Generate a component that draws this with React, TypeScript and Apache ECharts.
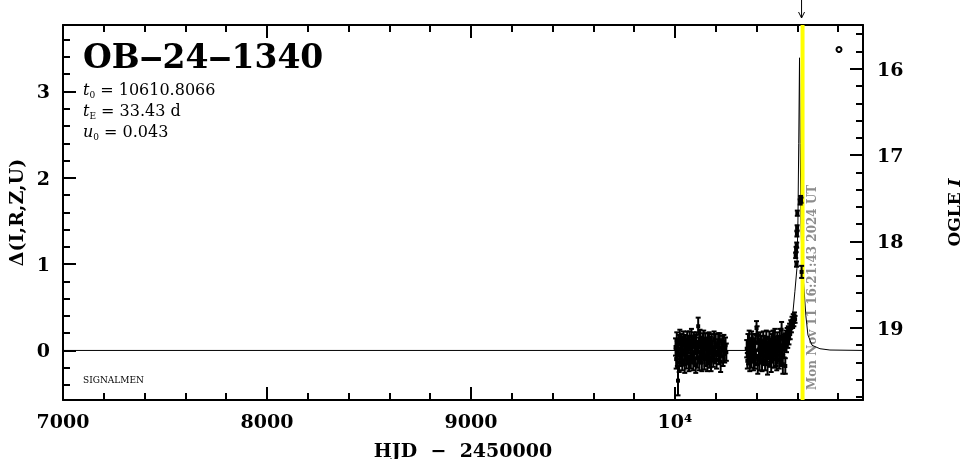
import React, { useEffect, useRef } from 'react';
import * as echarts from 'echarts';

// ---- axis ranges ----
const X_MIN = 7000;
const X_MAX = 10922;
const D_MIN = -0.574;
const D_MAX = 3.77;
const MAG_ZERO = 19.263; // OGLE I magnitude at Δ = 0
const NOW_T = 10625.68; // Mon Nov 11 16:21:43 2024 UT

// ---- tick labels ----
const xMajorTicks = [7000, 8000, 9000, 10000];
const xMinorTicks = [7200, 7400, 7600, 7800, 8200, 8400, 8600, 8800, 9200, 9400, 9600, 9800, 10200, 10400, 10600, 10800];
const deltaMajorTicks = [0, 1, 2, 3];
const deltaMinorTicks = [-0.4, -0.2, 0.2, 0.4, 0.6, 0.8, 1.2, 1.4, 1.6, 1.8, 2.2, 2.4, 2.6, 2.8, 3.2, 3.4, 3.6];
const magMajorTicks = [16, 17, 18, 19];
const magMinorTicks = [15.6, 15.8, 16.2, 16.4, 16.6, 16.8, 17.2, 17.4, 17.6, 17.8, 18.2, 18.4, 18.6, 18.8, 19.2, 19.4, 19.6, 19.8];

// ---- model curve ----
const modelT = [7000, 10480, 10530, 10549, 10564, 10578, 10588, 10598, 10603, 10607, 10610.8, 10614, 10618, 10623, 10632, 10642, 10652, 10672, 10711, 10760, 10922];
const modelD = [0, 0, 0.02, 0.06, 0.2, 0.43, 0.68, 0.95, 1.5, 2.4, 3.39, 2.4, 1.5, 1.0, 0.74, 0.4, 0.18, 0.06, 0.02, 0.005, 0];

// ---- photometry: season 1 ----
const s1T = [10003, 10006, 10009, 10012, 10015, 10018, 10021, 10024, 10027, 10030,
  10033, 10036, 10039, 10042, 10045, 10048, 10051, 10054, 10057, 10060,
  10063, 10066, 10069, 10072, 10075, 10078, 10081, 10084, 10087, 10090,
  10093, 10096, 10099, 10102, 10105, 10108, 10111, 10114, 10117, 10120,
  10123, 10126, 10129, 10132, 10135, 10138, 10141, 10144, 10147, 10150,
  10153, 10156, 10159, 10162, 10165, 10168, 10171, 10174, 10177, 10180,
  10184, 10188, 10192, 10196, 10200, 10204, 10208, 10212, 10216, 10220,
  10224, 10228, 10232, 10236, 10240, 10244, 10248, 10252];
const s1D = [0.04, -0.10, 0.12, -0.06, -0.35, 0.08, -0.14, 0.15, 0.02, -0.08,
  0.10, -0.12, 0.06, 0.14, -0.04, -0.16, 0.09, 0.01, -0.11, 0.13,
  -0.02, 0.07, -0.15, 0.11, 0.03, -0.09, 0.16, -0.05, 0.05, -0.13,
  0.12, -0.03, 0.08, -0.17, 0.10, 0.00, -0.08, 0.28, 0.06, -0.12,
  0.14, -0.06, 0.04, -0.14, 0.09, -0.01, 0.13, -0.10, 0.02, 0.11,
  -0.07, 0.05, -0.15, 0.08, -0.03, 0.12, -0.09, 0.06, -0.12, 0.10,
  0.01, -0.08, 0.13, -0.05, 0.07, -0.11, 0.04, 0.09, -0.06, 0.11,
  -0.13, 0.03, 0.08, -0.07, 0.10, -0.04, 0.06, -0.02];
const s1E = [0.10, 0.11, 0.09, 0.12, 0.17, 0.10, 0.11, 0.09, 0.12, 0.10,
  0.09, 0.11, 0.10, 0.08, 0.12, 0.10, 0.09, 0.11, 0.10, 0.09,
  0.12, 0.10, 0.09, 0.11, 0.10, 0.12, 0.09, 0.10, 0.11, 0.10,
  0.09, 0.12, 0.10, 0.09, 0.11, 0.10, 0.12, 0.10, 0.09, 0.11,
  0.10, 0.09, 0.12, 0.10, 0.11, 0.09, 0.10, 0.12, 0.10, 0.09,
  0.11, 0.10, 0.09, 0.12, 0.10, 0.09, 0.11, 0.10, 0.12, 0.09,
  0.10, 0.11, 0.09, 0.10, 0.12, 0.10, 0.09, 0.11, 0.10, 0.09,
  0.12, 0.10, 0.09, 0.11, 0.08, 0.10, 0.09, 0.10];

// ---- photometry: season 2 ----
const s2T = [10352, 10355, 10358, 10361, 10364, 10367, 10370, 10373, 10376, 10379,
  10382, 10385, 10388, 10391, 10394, 10397, 10400, 10403, 10406, 10409,
  10412, 10415, 10418, 10421, 10424, 10427, 10430, 10433, 10436, 10439,
  10442, 10445, 10448, 10451, 10454, 10457, 10460, 10463, 10466, 10469,
  10472, 10475, 10478, 10481, 10484, 10487, 10490, 10493, 10496, 10499,
  10502, 10505, 10508, 10511, 10514, 10517, 10520, 10523, 10526, 10529,
  10532, 10535, 10538, 10541, 10544, 10547, 10550, 10553, 10556, 10559,
  10562, 10565, 10568, 10571, 10574, 10577, 10580, 10583, 10586, 10589];
const s2D = [0.02, -0.12, 0.08, -0.06, 0.11, -0.15, 0.04, -0.09, 0.13, -0.02,
  0.07, -0.13, 0.05, -0.10, 0.09, -0.08, 0.26, 0.18, -0.16, 0.09,
  0.01, -0.11, 0.12, -0.05, 0.06, -0.14, 0.03, 0.10, -0.07, 0.08,
  -0.12, 0.04, 0.14, -0.03, -0.16, 0.07, 0.00, 0.11, -0.09, 0.05,
  -0.13, 0.09, -0.02, 0.12, -0.10, 0.06, 0.15, -0.06, 0.03, -0.14,
  0.10, -0.01, 0.08, -0.11, 0.13, 0.04, -0.08, 0.24, 0.06, -0.16,
  0.09, 0.02, 0.12, -0.18, 0.15, 0.05, 0.18, 0.10, 0.22, 0.14,
  0.25, 0.19, 0.30, 0.27, 0.34, 0.31, 0.38, 0.33, 0.40, 0.36];
const s2E = [0.10, 0.09, 0.11, 0.10, 0.12, 0.09, 0.10, 0.11, 0.09, 0.10,
  0.12, 0.10, 0.09, 0.11, 0.10, 0.09, 0.08, 0.10, 0.11, 0.09,
  0.10, 0.12, 0.09, 0.10, 0.11, 0.10, 0.09, 0.12, 0.10, 0.09,
  0.11, 0.10, 0.09, 0.10, 0.12, 0.09, 0.10, 0.11, 0.10, 0.09,
  0.12, 0.10, 0.09, 0.11, 0.10, 0.09, 0.10, 0.12, 0.10, 0.09,
  0.11, 0.10, 0.09, 0.10, 0.12, 0.09, 0.10, 0.09, 0.10, 0.11,
  0.09, 0.10, 0.08, 0.09, 0.08, 0.07, 0.08, 0.07, 0.06, 0.07,
  0.06, 0.06, 0.05, 0.06, 0.05, 0.05, 0.04, 0.05, 0.04, 0.04];

// ---- photometry: around the peak ----
const pkT = [10592, 10594, 10596, 10597, 10598, 10599, 10600, 10614, 10616, 10618, 10621];
const pkD = [1.10, 1.17, 1.00, 1.22, 1.35, 1.42, 1.59, 1.72, 1.76, 1.74, 0.91];
const pkE = [0.03, 0.03, 0.03, 0.03, 0.03, 0.03, 0.03, 0.03, 0.03, 0.03, 0.07];

const FONT = 'DejaVu Serif';

function rows(t: number[], d: number[], e: number[]) {
  return t.map((v, i) => [v, d[i], e[i]]);
}

export default function App() {
  const ref = useRef<HTMLDivElement>(null);
  useEffect(() => {
    if (!ref.current) return;
    const chart = echarts.init(ref.current, null, { renderer: 'svg' });
    const obs = [...rows(s1T, s1D, s1E), ...rows(s2T, s2D, s2E), ...rows(pkT, pkD, pkE)];
    const labelStyle = { color: '#000', fontFamily: FONT, fontWeight: 'bold' as const, fontSize: 19 };
    const hidden = { show: false };
    const tickStyle = { color: '#000', width: 2 };
    const xBase = { type: 'value' as const, min: X_MIN, max: X_MAX, splitLine: hidden };
    const dBase = { type: 'value' as const, min: D_MIN, max: D_MAX, splitLine: hidden };
    const mBase = { type: 'value' as const, min: MAG_ZERO - D_MAX, max: MAG_ZERO - D_MIN, inverse: true, splitLine: hidden };

    chart.setOption({
      animation: false,
      grid: { left: 63, right: 103, top: 25, bottom: 59, containLabel: false, outerBoundsMode: 'none' },
      xAxis: [
        {
          ...xBase, position: 'bottom',
          axisLine: { show: true, onZero: false, lineStyle: tickStyle },
          axisTick: { show: true, inside: true, length: 13, lineStyle: tickStyle, customValues: xMajorTicks },
          axisLabel: {
            ...labelStyle, margin: 11, customValues: xMajorTicks,
            formatter: (v: number) => (v === 10000 ? '10\u2074' : String(v)),
          },
          name: 'HJD  \u2212  2450000', nameLocation: 'middle', nameGap: 40,
          nameTextStyle: { ...labelStyle },
        },
        {
          ...xBase, position: 'bottom', axisLine: { show: false, onZero: false },
          axisTick: { show: true, inside: true, length: 7, lineStyle: tickStyle, customValues: xMinorTicks },
          axisLabel: hidden,
        },
        {
          ...xBase, position: 'top', axisLine: { show: true, onZero: false, lineStyle: tickStyle },
          axisTick: { show: true, inside: true, length: 13, lineStyle: tickStyle, customValues: xMajorTicks },
          axisLabel: hidden,
        },
        {
          ...xBase, position: 'top', axisLine: { show: false, onZero: false },
          axisTick: { show: true, inside: true, length: 7, lineStyle: tickStyle, customValues: xMinorTicks },
          axisLabel: hidden,
        },
      ],
      yAxis: [
        {
          ...dBase, position: 'left',
          axisLine: { show: true, onZero: false, lineStyle: tickStyle },
          axisTick: { show: true, inside: true, length: 13, lineStyle: tickStyle, customValues: deltaMajorTicks },
          axisLabel: { ...labelStyle, margin: 13, customValues: deltaMajorTicks },
          name: '\u0394(I,R,Z,U)', nameLocation: 'middle', nameGap: 38,
          nameTextStyle: { ...labelStyle },
        },
        {
          ...dBase, position: 'left', axisLine: { show: false, onZero: false },
          axisTick: { show: true, inside: true, length: 7, lineStyle: tickStyle, customValues: deltaMinorTicks },
          axisLabel: hidden,
        },
        {
          ...mBase, position: 'right',
          axisLine: { show: true, onZero: false, lineStyle: tickStyle },
          axisTick: { show: true, inside: true, length: 13, lineStyle: tickStyle, customValues: magMajorTicks },
          axisLabel: { ...labelStyle, margin: 14, customValues: magMajorTicks },
          name: '{a|OGLE }{b|I}', nameLocation: 'middle', nameGap: 82,
          nameTextStyle: {
            ...labelStyle, fontSize: 17,
            rich: {
              a: { fontFamily: FONT, fontWeight: 'bold', fontSize: 17, color: '#000' },
              b: { fontFamily: FONT, fontWeight: 'bold', fontStyle: 'italic', fontSize: 17, color: '#000' },
            },
          },
        },
        {
          ...mBase, position: 'right', axisLine: { show: false, onZero: false },
          axisTick: { show: true, inside: true, length: 7, lineStyle: tickStyle, customValues: magMinorTicks },
          axisLabel: hidden,
        },
      ],
      series: [
        {
          type: 'line', xAxisIndex: 0, yAxisIndex: 0, z: 2,
          data: modelT.map((t, i) => [t, modelD[i]]),
          showSymbol: false, symbol: 'none',
          lineStyle: { color: '#000', width: 1 },
          silent: true,
        },
        {
          type: 'custom', xAxisIndex: 0, yAxisIndex: 0, z: 3, silent: true,
          data: [[NOW_T, 0]],
          encode: { x: 0, y: 1 },
          renderItem: (_p: any, api: any) => {
            const t = api.value(0);
            const a = api.coord([t, D_MIN]);
            const b = api.coord([t, D_MAX]);
            return {
              type: 'rect',
              shape: { x: a[0] - 2, y: b[1], width: 4, height: a[1] - b[1] },
              style: { fill: '#ffff00' },
            };
          },
        },
        {
          type: 'custom', xAxisIndex: 0, yAxisIndex: 0, z: 4, silent: true,
          data: obs,
          encode: { x: 0, y: 1 },
          renderItem: (_p: any, api: any) => {
            const t = api.value(0), d = api.value(1), e = api.value(2);
            const c = api.coord([t, d]);
            const hi = api.coord([t, d + e]);
            const lo = api.coord([t, d - e]);
            const st = { stroke: '#000', lineWidth: 2 };
            return {
              type: 'group',
              children: [
                { type: 'line', shape: { x1: c[0], y1: hi[1], x2: c[0], y2: lo[1] }, style: st },
                { type: 'line', shape: { x1: c[0] - 2.5, y1: hi[1], x2: c[0] + 2.5, y2: hi[1] }, style: st },
                { type: 'line', shape: { x1: c[0] - 2.5, y1: lo[1], x2: c[0] + 2.5, y2: lo[1] }, style: st },
                { type: 'rect', shape: { x: c[0] - 2, y: c[1] - 2, width: 4, height: 4 }, style: { fill: '#000' } },
              ],
            };
          },
        },
      ],
    });

    const px = chart.convertToPixel({ xAxisIndex: 0 }, NOW_T) as number;
    const yBottom = chart.convertToPixel({ yAxisIndex: 0 }, D_MIN) as number;
    const yTop = chart.convertToPixel({ yAxisIndex: 0 }, D_MAX) as number;

    const paramRich = {
      i: { fontFamily: FONT, fontStyle: 'italic', fontSize: 16, lineHeight: 20, fill: '#000' },
      n: { fontFamily: FONT, fontSize: 16, lineHeight: 20, fill: '#000' },
      s: { fontFamily: FONT, fontSize: 9, lineHeight: 10, verticalAlign: 'bottom', fill: '#000' },
    };

    chart.setOption({
      graphic: [
        {
          type: 'text', x: 83, y: 56,
          style: { text: 'OB\u201224\u20121340', fill: '#000', font: `bold 33px "${FONT}"`, verticalAlign: 'middle', align: 'left' },
        },
        {
          type: 'text', x: 83, y: 89,
          style: { text: '{i|t}{s|0}{n| = 10610.8066}', rich: paramRich, verticalAlign: 'middle', align: 'left' },
        },
        {
          type: 'text', x: 83, y: 110,
          style: { text: '{i|t}{s|E}{n| = 33.43 d}', rich: paramRich, verticalAlign: 'middle', align: 'left' },
        },
        {
          type: 'text', x: 83, y: 131,
          style: { text: '{i|u}{s|0}{n| = 0.043}', rich: paramRich, verticalAlign: 'middle', align: 'left' },
        },
        {
          type: 'text', x: 83, y: 380,
          style: { text: 'SIGNALMEN', fill: '#000', font: `9px "${FONT}"`, verticalAlign: 'middle', align: 'left' },
        },
        {
          type: 'circle', shape: { cx: 839, cy: 49.5, r: 2.5 },
          style: { fill: 'none', stroke: '#000', lineWidth: 2 },
        },
        {
          type: 'line', shape: { x1: px - 1, y1: 0, x2: px - 1, y2: yTop - 7 },
          style: { stroke: '#000', lineWidth: 1 },
        },
        {
          type: 'polyline', shape: { points: [[px - 4, yTop - 13], [px - 1, yTop - 7], [px + 2, yTop - 13]] },
          style: { stroke: '#000', lineWidth: 1, fill: 'none' },
        },
        {
          type: 'text', x: px + 9, y: yBottom - 10, rotation: Math.PI / 2,
          style: {
            text: 'Mon Nov 11 16:21:43 2024 UT', fill: '#8c8c8c',
            font: `bold 12px "${FONT}"`, align: 'left', verticalAlign: 'middle',
          },
        },
      ],
    });

    return () => chart.dispose();
  }, []);
  return <div ref={ref} style={{ position: 'fixed', left: 0, top: 0, width: 966, height: 459 }} />;
}
